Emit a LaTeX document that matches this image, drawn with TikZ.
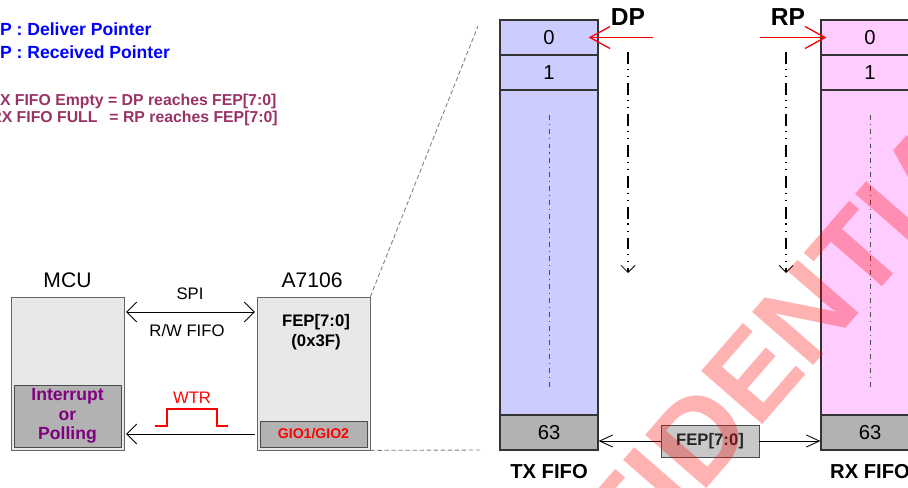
\documentclass[tikz,border=0pt]{standalone}
\usepackage{fontspec}
\setmainfont{Liberation Sans}
\usetikzlibrary{arrows.meta}

\definecolor{txblue}{HTML}{CCCCFF}
\definecolor{rxpink}{HTML}{FFCCFF}
\definecolor{cellgray}{HTML}{B2B2B2}
\definecolor{chipgray}{HTML}{E8E8E8}
\definecolor{fepgray}{HTML}{C8C8C8}
\definecolor{notemaroon}{HTML}{993366}
\definecolor{ptrblue}{HTML}{0000FF}
\definecolor{irqpurple}{HTML}{800080}

\tikzset{
  chipbox/.style={draw=black!60,fill=chipgray,minimum width=2.26cm,minimum height=3.06cm,inner sep=0pt},
  pinbox/.style={draw=black!70,fill=cellgray,minimum width=2.14cm,inner sep=0pt},
  fifocell/.style={draw=black!80,line width=0.7pt,minimum width=1.96cm,minimum height=0.7cm,inner sep=0pt,font=\fontsize{11.5}{13}\selectfont},
  fifolabel/.style={font=\bfseries\fontsize{11.5}{13}\selectfont},
  ptrlabel/.style={font=\bfseries\fontsize{14}{16}\selectfont},
  notetext/.style={anchor=base west,inner sep=0pt,font=\bfseries\fontsize{9}{11}\selectfont,text=notemaroon},
  spiarrow/.style={<->,>={Straight Barb[length=0.2cm,width=0.4cm]},line width=0.5pt,shorten <=1pt,shorten >=1pt},
  ptrarrow/.style={->,>={Straight Barb[length=0.4cm,width=0.44cm]},red,line width=0.75pt},
  ptrpath/.style={->,>={Straight Barb[length=0.14cm,width=0.28cm,line width=0.5pt]},line width=1pt,
    dash pattern=on 6.8pt off 2.8pt on 0.6pt off 3.4pt on 0.6pt off 3.4pt},
  fifoarrow/.style={->,>={Straight Barb[length=0.26cm,width=0.24cm]},line width=0.5pt},
  fifodash/.style={black!70,line width=0.5pt,dash pattern=on 2.8pt off 2.3pt on 0.6pt off 2.3pt},
  zoomline/.style={black!50,line width=0.5pt,dash pattern=on 2.5pt off 1.5pt}
}

\begin{document}
\begin{tikzpicture}[x=0.02cm,y=-0.02cm]
\useasboundingbox (0,0) rectangle (908,487);
\clip (0,0) rectangle (908,487);

% notes
\node[notetext,text=ptrblue,font=\bfseries\fontsize{10}{12}\selectfont] (dpnote) at (-13,35) {DP : Deliver Pointer};
\node[notetext,text=ptrblue,font=\bfseries\fontsize{10}{12}\selectfont] (rpnote) at (-13,58) {RP : Received Pointer};
\node[notetext] (emptynote) at (-10,105) {TX FIFO Empty = DP reaches FEP[7:0]};
\node[notetext] (fullnote) at (-10,122) {RX FIFO FULL\hspace{0.75em}= RP reaches FEP[7:0]};

% MCU and A7106
\node[chipbox] (mcu) at (67.5,373.5) {};
\node[pinbox,minimum height=1.24cm,align=center,text=irqpurple,font=\bfseries\fontsize{10}{11}\selectfont] (irq) at (67.5,416) {Interrupt\\or\\Polling};
\node[font=\fontsize{12}{14}\selectfont] (mculabel) at (67.5,280) {MCU};
\node[chipbox] (a7106) at (313.5,373.5) {};
\node[pinbox,minimum height=0.52cm,text=red,font=\bfseries\fontsize{8}{9}\selectfont] (gio) at (313.5,434) {GIO1/GIO2};
\node[font=\fontsize{12}{14}\selectfont] (a7106label) at (312,280) {A7106};
\node[align=center,font=\bfseries\fontsize{9.5}{11.3}\selectfont] (fepreg) at (316,332) {FEP[7:0]\\(0x3F)};

\coordinate (spiy) at (0,312);
\draw[spiarrow] (mcu.east |- spiy) -- (a7106.west |- spiy);
\node[font=\fontsize{9.5}{11}\selectfont] (spi) at (190,294) {SPI};
\node[font=\fontsize{9.5}{11}\selectfont] (rwfifo) at (187,331) {R/W FIFO};
\draw[spiarrow,<-] (mcu.east |- gio.west) -- (a7106.west |- gio.west);
\draw[red,line width=0.6pt] (155,426) -- ++(12,0) -- ++(0,-17) -- ++(50,0) -- ++(0,17) -- ++(11,0);
\node[text=red,font=\fontsize{9.5}{11}\selectfont] (wtr) at (192,398) {WTR};

\coordinate (zoomtop) at (478,26);
\coordinate (zoombot) at (483,450);
\draw[zoomline] (a7106.north east) -- (zoomtop);
\draw[zoomline] (a7106.south east) -- (zoombot);

% TX FIFO
\node[fifocell,fill=txblue] (tx0) at (549,37.5) {0};
\node[fifocell,fill=txblue] (tx1) at (549,72.5) {1};
\node[fifocell,fill=txblue,minimum height=6.5cm] (txbody) at (549,252.5) {};
\node[fifocell,fill=cellgray] (tx63) at (549,432.5) {63};
\draw[fifodash] ([yshift=-0.52cm]txbody.north) -- ([yshift=0.54cm]txbody.south);
\node[fifolabel] (txlabel) at (549,472) {TX FIFO};

% RX FIFO
\node[fifocell,fill=rxpink] (rx0) at (870,37.5) {0};
\node[fifocell,fill=rxpink] (rx1) at (870,72.5) {1};
\node[fifocell,fill=rxpink,minimum height=6.5cm] (rxbody) at (870,252.5) {};
\node[fifocell,fill=cellgray] (rx63) at (870,432.5) {63};
\draw[fifodash] ([yshift=-0.52cm]rxbody.north) -- ([yshift=0.54cm]rxbody.south);
\node[fifolabel] (rxlabel) at (870,472) {RX FIFO};

% pointers
\node[ptrlabel] (dp) at (628,17) {DP};
\coordinate (dpin) at (653,37.5);
\draw[ptrarrow] (dpin) -- ([xshift=-0.2cm]tx0.east);
\coordinate (dptop) at (628,52);
\coordinate (dpbot) at (628,273);
\draw[ptrpath] (dptop) -- (dpbot);
\node[ptrlabel] (rp) at (788,17) {RP};
\coordinate (rpin) at (760,37.5);
\draw[ptrarrow] (rpin) -- ([xshift=0.12cm]rx0.west);
\coordinate (rptop) at (786,52);
\coordinate (rpbot) at (786,273);
\draw[ptrpath] (rptop) -- (rpbot);

\node[draw=black!70,fill=fepgray,minimum width=1.96cm,minimum height=0.64cm,inner sep=0pt,
  text=black!85,font=\bfseries\fontsize{9.5}{11}\selectfont] (fep) at (710,441) {FEP[7:0]};
\draw[fifoarrow] (fep.west) -- (fep.west -| tx63.east);
\draw[fifoarrow] (fep.east) -- (fep.east -| rx63.west);

% watermark
\node[rotate=49,text=red,opacity=0.3,font=\bfseries\fontsize{67}{70}\selectfont] (stamp) at (718,414) {CONFIDENTIAL};
\end{tikzpicture}
\end{document}
